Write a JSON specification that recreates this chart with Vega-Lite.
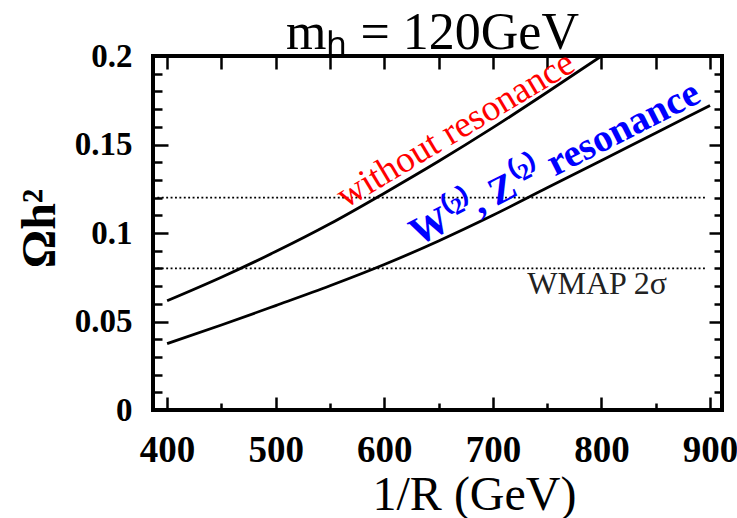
{
  "$schema": "https://vega.github.io/schema/vega-lite/v6.json",
  "width": 569,
  "height": 354,
  "autosize": "none",
  "padding": {"left": 153, "top": 56, "right": 15, "bottom": 108},
  "background": "white",
  "title": {"text": "mₕ = 120GeV", "font": "Liberation Serif", "fontSize": 52, "fontWeight": "normal", "anchor": "middle", "frame": "group", "baseline": "alphabetic", "offset": 0, "dy": 61, "dx": -5, "color": "black"},
  "config": {
    "view": {"stroke": "black", "strokeWidth": 4},
    "axis": {"domain": false, "grid": false, "tickColor": "black", "tickWidth": 2.5, "labelColor": "black", "titleColor": "black"}
  },
  "datasets": {
    "curves": [
      {"x": 400, "omega": 0.0617, "series": "without resonance"},
      {"x": 450, "omega": 0.0750, "series": "without resonance"},
      {"x": 500, "omega": 0.0895, "series": "without resonance"},
      {"x": 550, "omega": 0.1052, "series": "without resonance"},
      {"x": 600, "omega": 0.1225, "series": "without resonance"},
      {"x": 650, "omega": 0.1405, "series": "without resonance"},
      {"x": 700, "omega": 0.1595, "series": "without resonance"},
      {"x": 750, "omega": 0.1795, "series": "without resonance"},
      {"x": 800, "omega": 0.2000, "series": "without resonance"},
      {"x": 400, "omega": 0.0375, "series": "W2 Z2 resonance"},
      {"x": 450, "omega": 0.0480, "series": "W2 Z2 resonance"},
      {"x": 500, "omega": 0.0590, "series": "W2 Z2 resonance"},
      {"x": 550, "omega": 0.0702, "series": "W2 Z2 resonance"},
      {"x": 600, "omega": 0.0822, "series": "W2 Z2 resonance"},
      {"x": 650, "omega": 0.0955, "series": "W2 Z2 resonance"},
      {"x": 700, "omega": 0.1100, "series": "W2 Z2 resonance"},
      {"x": 750, "omega": 0.1255, "series": "W2 Z2 resonance"},
      {"x": 800, "omega": 0.1410, "series": "W2 Z2 resonance"},
      {"x": 850, "omega": 0.1565, "series": "W2 Z2 resonance"},
      {"x": 900, "omega": 0.1720, "series": "W2 Z2 resonance"}
    ],
    "wmap": [
      {"x": 387, "x2": 897, "omega": 0.08},
      {"x": 387, "x2": 897, "omega": 0.12}
    ],
    "labels": [
      {"label": "without resonance", "x": 671, "omega": 0.153},
      {"label": "W⁽²⁾, Z⁽²⁾  resonance", "x": 762, "omega": 0.1335},
      {"label": "WMAP 2σ", "x": 796, "omega": 0.0655}
    ]
  },
  "layer": [
    {
      "data": {"name": "curves"},
      "mark": {"type": "line", "color": "black", "strokeWidth": 2.8, "interpolate": "monotone", "clip": true},
      "encoding": {
        "x": {"field": "x", "type": "quantitative", "scale": {"domain": [387, 911], "nice": false, "zero": false},
          "axis": {"orient": "bottom", "values": [400, 500, 600, 700, 800, 900], "tickSize": -13, "labelFont": "Liberation Serif", "labelFontWeight": "bold", "labelFontSize": 37, "labelPadding": 35, "labelBaseline": "top",
            "title": "1/R (GeV)", "titleFont": "Liberation Serif", "titleFontWeight": "normal", "titleFontSize": 48, "titleX": 321, "titleY": 99, "titleAlign": "center", "titleBaseline": "alphabetic"}},
        "y": {"field": "omega", "type": "quantitative", "scale": {"domain": [0, 0.2], "nice": false},
          "axis": {"orient": "left", "values": [0, 0.05, 0.1, 0.15, 0.2], "format": ".2~f", "tickSize": -15, "labelFont": "Liberation Serif", "labelFontWeight": "bold", "labelFontSize": 33, "labelPadding": 36, "labelBaseline": "middle",
            "title": "Ωh²", "titleFont": "Liberation Serif", "titleFontWeight": "bold", "titleFontSize": 48, "titleX": -113, "titleY": 172, "titleAlign": "center", "titleBaseline": "middle", "titleAngle": 270}},
        "detail": {"field": "series"}
      }
    },
    {
      "data": {"name": "wmap"},
      "mark": {"type": "rule", "color": "black", "strokeWidth": 1.9, "strokeDash": [1.9, 2.5]},
      "encoding": {
        "x": {"field": "x", "type": "quantitative", "scale": {"domain": [387, 911], "nice": false, "zero": false},
          "axis": {"orient": "bottom", "values": [450, 550, 650, 750, 850], "tickSize": -7, "labels": false, "title": null}},
        "x2": {"field": "x2"},
        "y": {"field": "omega", "type": "quantitative", "scale": {"domain": [0, 0.2], "nice": false},
          "axis": {"orient": "left", "values": [0.01, 0.02, 0.03, 0.04, 0.06, 0.07, 0.08, 0.09, 0.11, 0.12, 0.13, 0.14, 0.16, 0.17, 0.18, 0.19], "tickSize": -9, "labels": false, "title": null}}
      }
    },
    {
      "data": {"name": "labels"},
      "transform": [{"filter": "datum.label === 'without resonance'"}],
      "mark": {"type": "text", "color": "#ff0000", "font": "Liberation Serif", "fontSize": 37, "angle": -31, "align": "center", "baseline": "alphabetic"},
      "encoding": {
        "x": {"field": "x", "type": "quantitative", "scale": {"domain": [387, 911], "nice": false, "zero": false},
          "axis": {"orient": "top", "values": [400, 450, 500, 550, 600, 650, 700, 750, 800, 850, 900], "tickSize": -13, "labels": false, "title": null}},
        "y": {"field": "omega", "type": "quantitative", "scale": {"domain": [0, 0.2], "nice": false},
          "axis": {"orient": "right", "values": [0.05, 0.1, 0.15], "tickSize": -13, "labels": false, "title": null}},
        "text": {"field": "label"}
      }
    },
    {
      "data": {"name": "labels"},
      "transform": [{"filter": "datum.label !== 'without resonance' && datum.label !== 'WMAP 2σ'"}],
      "mark": {"type": "text", "color": "#0000ff", "font": "Liberation Serif", "fontWeight": "bold", "fontSize": 39, "angle": -27, "align": "center", "baseline": "alphabetic"},
      "encoding": {
        "x": {"field": "x", "type": "quantitative", "scale": {"domain": [387, 911], "nice": false, "zero": false}, "axis": null},
        "y": {"field": "omega", "type": "quantitative", "scale": {"domain": [0, 0.2], "nice": false},
          "axis": {"orient": "right", "values": [0.01, 0.02, 0.03, 0.04, 0.06, 0.07, 0.08, 0.09, 0.11, 0.12, 0.13, 0.14, 0.16, 0.17, 0.18, 0.19], "tickSize": -8, "labels": false, "title": null}},
        "text": {"field": "label"}
      }
    },
    {
      "data": {"name": "labels"},
      "transform": [{"filter": "datum.label === 'WMAP 2σ'"}],
      "mark": {"type": "text", "color": "#222222", "font": "Liberation Serif", "fontSize": 32, "align": "center", "baseline": "alphabetic"},
      "encoding": {
        "x": {"field": "x", "type": "quantitative", "scale": {"domain": [387, 911], "nice": false, "zero": false}, "axis": null},
        "y": {"field": "omega", "type": "quantitative", "scale": {"domain": [0, 0.2], "nice": false}, "axis": null},
        "text": {"field": "label"}
      }
    }
  ],
  "resolve": {"axis": {"x": "independent", "y": "independent"}}
}
